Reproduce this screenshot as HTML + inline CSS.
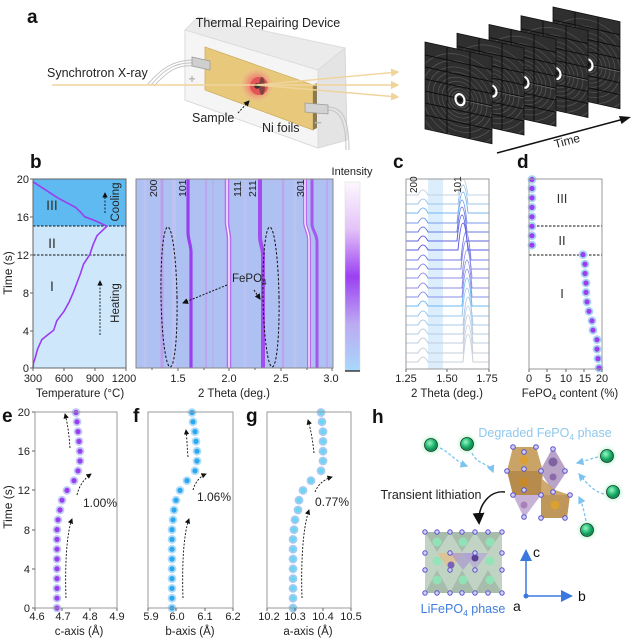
<!DOCTYPE html>
<html><head><meta charset="utf-8"><style>
html,body{margin:0;padding:0;background:#fff;}
svg{display:block;font-family:"Liberation Sans",Arial,sans-serif;}
</style></head><body>
<svg width="633" height="640" viewBox="0 0 633 640" xmlns="http://www.w3.org/2000/svg">
<defs>
<clipPath id="pc"><rect width="67" height="87"/></clipPath>
<g id="dp">
 <rect width="67" height="87" fill="#2f2f2f"/>
 <g clip-path="url(#pc)" fill="none" stroke="#a0a0a0" stroke-opacity=".35" stroke-width=".7">
  <circle cx="35" cy="50" r="8"/><circle cx="35" cy="50" r="11"/><circle cx="35" cy="50" r="14"/>
  <circle cx="35" cy="50" r="18"/><circle cx="35" cy="50" r="22"/><circle cx="35" cy="50" r="27"/>
  <circle cx="35" cy="50" r="32"/><circle cx="35" cy="50" r="38"/><circle cx="35" cy="50" r="45"/>
  <line x1="40" y1="50" x2="67" y2="50" stroke-opacity=".6"/>
 </g>
 <g stroke="#0d0d0d" stroke-width="1">
  <line x1="0" y1="13" x2="67" y2="13"/><line x1="0" y1="25" x2="67" y2="25"/><line x1="0" y1="37" x2="67" y2="37"/>
  <line x1="0" y1="49" x2="67" y2="49"/><line x1="0" y1="61" x2="67" y2="61"/><line x1="0" y1="73" x2="67" y2="73"/>
  <line x1="22" y1="0" x2="22" y2="87"/><line x1="45" y1="0" x2="45" y2="87"/>
 </g>
 <ellipse cx="35" cy="50" rx="4.5" ry="5.5" fill="none" stroke="#fff" stroke-width="2.2"/>
 <circle cx="35" cy="50" r="2" fill="#111"/>
 <rect width="67" height="87" fill="none" stroke="#111" stroke-width=".8"/>
</g>
<linearGradient id="cb" x1="0" y1="0" x2="0" y2="1">
 <stop offset="0" stop-color="#fdf7ff"/><stop offset=".25" stop-color="#e3c3f7"/>
 <stop offset=".5" stop-color="#9b40f2"/><stop offset=".75" stop-color="#bcaaf2"/>
 <stop offset="1" stop-color="#a8d8fb"/>
</linearGradient>
<radialGradient id="spot"><stop offset="0" stop-color="#ff5a5a" stop-opacity=".9"/><stop offset=".55" stop-color="#f07070" stop-opacity=".6"/><stop offset="1" stop-color="#f4a0a0" stop-opacity="0"/></radialGradient>
<radialGradient id="li" cx=".4" cy=".35"><stop offset="0" stop-color="#9ff5c8"/><stop offset=".6" stop-color="#2ec47c"/><stop offset="1" stop-color="#15925a"/></radialGradient>
<radialGradient id="glow"><stop offset=".5" stop-color="#a8f0c4" stop-opacity=".8"/><stop offset="1" stop-color="#c8f8d8" stop-opacity="0"/></radialGradient>
<marker id="ah" markerWidth="6" markerHeight="6" refX="5" refY="3" orient="auto"><path d="M0,0 L6,3 L0,6 z" fill="#111"/></marker>
<marker id="ahb" markerWidth="6" markerHeight="6" refX="5" refY="3" orient="auto"><path d="M0,0 L6,3 L0,6 z" fill="#7cc4f0"/></marker>
<marker id="ahy" markerWidth="6" markerHeight="6" refX="5" refY="3" orient="auto"><path d="M0,0 L6,3 L0,6 z" fill="#f0d49c"/></marker>
<marker id="ahk" markerWidth="8" markerHeight="8" refX="6" refY="4" orient="auto"><path d="M0,0 L8,4 L0,8 z" fill="#111"/></marker>
<marker id="ahbl" markerWidth="8" markerHeight="8" refX="6" refY="4" orient="auto"><path d="M0,0 L8,4 L0,8 z" fill="#3a78e0"/></marker>
</defs>

<!-- ============ PANEL A ============ -->
<text x="27" y="23" font-size="19" font-weight="bold" fill="#111">a</text>
<polygon points="185,30 198,17 345,48 347,140 318,148 185,100" fill="#f1f1f1" stroke="#d6d6d6" stroke-width="1"/>
<polygon points="185,30 198,17 345,48 318,70" fill="#ebebeb" stroke="#dcdcdc" stroke-width=".8"/>
<polygon points="318,70 345,48 347,140 318,148" fill="#e4e4e4" stroke="#d6d6d6" stroke-width=".8"/>
<polygon points="185,30 318,70 318,148 185,100" fill="#f5f5f5" stroke="#d8d8d8" stroke-width=".8"/>
<text x="268" y="27" font-size="12.5" text-anchor="middle" fill="#222">Thermal Repairing Device</text>
<polygon points="205,47 313,85 313,130 205,90" fill="#e8c97c" stroke="#cfae5e" stroke-width=".8"/>
<polygon points="313,85 317,83 317,128 313,130" fill="#8a7a55"/>
<circle cx="257" cy="85" r="17" fill="url(#spot)"/>
<circle cx="259" cy="86" r="9" fill="#e35454"/>
<ellipse cx="262" cy="86" rx="3" ry="9" fill="#5a3a3a" opacity=".7"/>
<circle cx="257" cy="86" r="2.8" fill="#333"/>
<g fill="none" stroke="#c4c4c4" stroke-width="1">
<path d="M148,84 C160,70 172,60 194,60"/><path d="M151,85 C163,71 174,62 194,63"/><path d="M154,86 C166,73 176,64 194,66"/>
<path d="M328,107 C342,107 349,118 349,150"/><path d="M328,110 C339,110 346,120 346,150"/>
</g>
<polygon points="192,57 210,61 210,70 192,66" fill="#cfcfcf" stroke="#9c9c9c" stroke-width=".8"/>
<polygon points="305,103 328,105 328,114 305,112" fill="#d2d2d2" stroke="#9c9c9c" stroke-width=".8"/>
<text x="192" y="83" font-size="12" font-weight="bold" fill="#b8b8b8" text-anchor="middle">+</text>
<text x="318" y="127" font-size="13" font-weight="bold" fill="#b8b8b8" text-anchor="middle">−</text>
<g stroke="#f0d49c" stroke-width="1.4" fill="none">
<line x1="52" y1="85" x2="257" y2="85"/>
<line x1="257" y1="85" x2="398" y2="72" marker-end="url(#ahy)"/>
<line x1="257" y1="85" x2="398" y2="85" marker-end="url(#ahy)"/>
<line x1="257" y1="85" x2="398" y2="97" marker-end="url(#ahy)"/>
</g>
<text x="47" y="77" font-size="12.5" fill="#222">Synchrotron X-ray</text>
<text x="192" y="122" font-size="12.5" fill="#222">Sample</text>
<line x1="238" y1="113" x2="249" y2="101" stroke="#111" stroke-width="1" stroke-dasharray="2,1.5" marker-end="url(#ah)"/>
<text x="262" y="132" font-size="12.5" fill="#222">Ni foils</text>
<use href="#dp" transform="matrix(1,0.22,0,1,553,7)"/>
<use href="#dp" transform="matrix(1,0.22,0,1,521,15.75)"/>
<use href="#dp" transform="matrix(1,0.22,0,1,489,24.5)"/>
<use href="#dp" transform="matrix(1,0.22,0,1,457,33.25)"/>
<use href="#dp" transform="matrix(1,0.22,0,1,425,42)"/>
<line x1="497" y1="153" x2="622" y2="119.5" stroke="#111" stroke-width="1.5"/>
<polygon points="631,117 619,116 621.5,124" fill="#111"/>
<text x="567" y="145" font-size="12" text-anchor="middle" fill="#222" transform="rotate(-15 567 141)">Time</text>

<!-- ============ PANEL B ============ -->
<text x="30" y="168" font-size="19" font-weight="bold" fill="#111">b</text>
<rect x="33" y="226" width="93" height="142" fill="#cfe7fa"/>
<rect x="33" y="179" width="93" height="47" fill="#5ebaf0"/>
<line x1="33" y1="226" x2="126" y2="226" stroke="#111" stroke-width="1" stroke-dasharray="2.5,1.5"/>
<line x1="33" y1="255" x2="126" y2="255" stroke="#111" stroke-width="1" stroke-dasharray="2.5,1.5"/>
<polyline fill="none" stroke="#9a3df0" stroke-width="1.6" points="33,368 33.5,363 35,358.5 37.6,349 41.8,339.6 47.5,335 53.7,330.2 56.8,320.8 64,311.3 69.2,301.9 73.3,292.4 76.9,283 80.5,273.5 83.6,264 89.8,254.6 92.9,245.2 97,235.7 106.9,226.2 95,220.6 84.7,216.8 80.5,212 75.4,207.3 57.8,197.9 43.3,188.4 33,181.8"/>
<rect x="33" y="179" width="93" height="189" fill="none" stroke="#666" stroke-width="1"/>
<g font-size="14" fill="#333" text-anchor="middle"><text x="52" y="210">III</text><text x="52" y="248">II</text><text x="52" y="291">I</text></g>
<line x1="105" y1="213" x2="105" y2="193" stroke="#111" stroke-width=".9" stroke-dasharray="2,1.5" marker-end="url(#ah)"/>
<line x1="100" y1="335" x2="100" y2="281" stroke="#111" stroke-width=".9" stroke-dasharray="2,1.5" marker-end="url(#ah)"/>
<text font-size="11.5" fill="#222" text-anchor="middle" transform="translate(119,202) rotate(-90)">Cooling</text>
<text font-size="11.5" fill="#222" text-anchor="middle" transform="translate(119,303) rotate(-90)">Heating</text>
<g stroke="#666" stroke-width="1">
<line x1="30" y1="179" x2="33" y2="179"/><line x1="30" y1="217" x2="33" y2="217"/><line x1="30" y1="255" x2="33" y2="255"/><line x1="30" y1="293" x2="33" y2="293"/><line x1="30" y1="331" x2="33" y2="331"/><line x1="30" y1="368" x2="33" y2="368"/>
<line x1="33" y1="368" x2="33" y2="371"/><line x1="64" y1="368" x2="64" y2="371"/><line x1="95" y1="368" x2="95" y2="371"/><line x1="126" y1="368" x2="126" y2="371"/>
</g>
<g font-size="11" fill="#222" text-anchor="end">
<text x="29" y="183">20</text><text x="29" y="221">16</text><text x="29" y="259">12</text><text x="29" y="297">8</text><text x="29" y="335">4</text><text x="29" y="372">0</text>
</g>
<g font-size="11" fill="#222" text-anchor="middle">
<text x="33" y="382">300</text><text x="64" y="382">600</text><text x="95" y="382">900</text><text x="124" y="382">1200</text>
</g>
<text font-size="12" fill="#222" text-anchor="middle" transform="translate(12,273) rotate(-90)">Time (s)</text>
<text x="80" y="397" font-size="11.5" fill="#222" text-anchor="middle">Temperature (°C)</text>

<!-- heatmap -->
<rect x="136" y="179" width="197" height="189" fill="#afc0f2"/>
<g fill="none">
<line x1="145" y1="179" x2="145" y2="368" stroke="#b8c4f2" stroke-width="3"/>
<line x1="174" y1="179" x2="174" y2="368" stroke="#bac3f2" stroke-width="4"/>
<line x1="245" y1="179" x2="245" y2="368" stroke="#b8c2f2" stroke-width="3"/>
<line x1="295" y1="179" x2="295" y2="368" stroke="#b9c4f3" stroke-width="3"/>
<line x1="162" y1="179" x2="162" y2="368" stroke="#bb9eec" stroke-width="3"/>
<line x1="206" y1="179" x2="206" y2="368" stroke="#bba8ee" stroke-width="2.2"/>
<line x1="213" y1="179" x2="213" y2="368" stroke="#b9b0f0" stroke-width="1.5"/>
<line x1="283" y1="179" x2="283" y2="368" stroke="#bba6ee" stroke-width="2.5"/>
<line x1="327" y1="179" x2="327" y2="368" stroke="#bca8ee" stroke-width="2"/>
<path d="M191,368 L191,252 C191,245 188,240 188,232 L188,179" stroke="#9a3ff0" stroke-width="3.2"/>
<path d="M229,368 L229,240 C229,232 227,228 227,222 L227,179" stroke="#b56cee" stroke-width="4.5"/>
<path d="M229,368 L229,240 C229,232 227,228 227,222 L227,179" stroke="#fdf2ff" stroke-width="1.5"/>
<path d="M263,368 L263,255 C263,248 260,244 260,236 L260,179" stroke="#a24cf0" stroke-width="4"/>
<path d="M317,368 L317,242 C317,234 312,230 312,224 L312,179" stroke="#a658ee" stroke-width="3"/>
<path d="M309,368 L309,240 C309,232 305,228 305,222 L305,179" stroke="#b56cee" stroke-width="4"/>
<path d="M309,368 L309,240 C309,232 305,228 305,222 L305,179" stroke="#fdf2ff" stroke-width="1.4"/>
</g>
<rect x="136" y="179" width="197" height="189" fill="none" stroke="#888" stroke-width="1"/>
<g font-size="10.5" fill="#222">
<text transform="translate(157,197) rotate(-90)">200</text>
<text transform="translate(186,197) rotate(-90)">101</text>
<text transform="translate(241,197) rotate(-90)">111</text>
<text transform="translate(256,197) rotate(-90)">211</text>
<text transform="translate(304,197) rotate(-90)">301</text>
</g>
<ellipse cx="169" cy="297" rx="8" ry="70" fill="none" stroke="#111" stroke-width="1" stroke-dasharray="2.5,1.8" transform="rotate(-1 169 297)"/>
<ellipse cx="271" cy="297" rx="8" ry="70" fill="none" stroke="#111" stroke-width="1" stroke-dasharray="2.5,1.8" transform="rotate(-1 271 297)"/>
<text x="232" y="282" font-size="11.5" fill="#222">FePO<tspan font-size="8" dy="3">4</tspan></text>
<line x1="227" y1="285" x2="183" y2="303" stroke="#111" stroke-width="1" stroke-dasharray="2,1.5" marker-end="url(#ah)"/>
<line x1="254" y1="290" x2="260" y2="299" stroke="#111" stroke-width="1" stroke-dasharray="2,1.5" marker-end="url(#ah)"/>
<g stroke="#666" stroke-width="1">
<line x1="178" y1="368" x2="178" y2="371"/><line x1="229" y1="368" x2="229" y2="371"/><line x1="281" y1="368" x2="281" y2="371"/><line x1="332" y1="368" x2="332" y2="371"/>
<line x1="152" y1="368" x2="152" y2="370"/><line x1="204" y1="368" x2="204" y2="370"/><line x1="255" y1="368" x2="255" y2="370"/><line x1="307" y1="368" x2="307" y2="370"/>
</g>
<g font-size="11" fill="#222" text-anchor="middle">
<text x="178" y="382">1.5</text><text x="229" y="382">2.0</text><text x="281" y="382">2.5</text><text x="331" y="382">3.0</text>
</g>
<text x="234" y="397" font-size="11.5" fill="#222" text-anchor="middle">2 Theta (deg.)</text>
<rect x="345" y="182" width="15" height="189" fill="url(#cb)" stroke="#ddd" stroke-width=".5"/>
<line x1="345" y1="371" x2="360" y2="371" stroke="#111" stroke-width="1.2"/>
<text x="352" y="175" font-size="11" fill="#222" text-anchor="middle">Intensity</text>

<!-- ============ PANEL C ============ -->
<text x="393" y="168" font-size="19" font-weight="bold" fill="#111">c</text>
<rect x="428" y="179" width="15" height="190" fill="#dcedfb"/>
<g fill="none" stroke-width="1">
<path stroke="#c8d0da" d="M406,362 L418,362 Q423,352 428,362 L463,362 Q468,306 473,362 L489,362"/>
<path stroke="#c5cfda" d="M406,353 L418,353 Q423,343 428,353 L463,353 Q468,297 473,353 L489,353"/>
<path stroke="#c0ccdc" d="M406,343 L418,343 Q423,333 428,343 L463,343 Q468,287 473,343 L489,343"/>
<path stroke="#b8cce0" d="M406,334 L418,334 Q423,324 428,334 L463,334 Q468,278 473,334 L489,334"/>
<path stroke="#a8c8ea" d="M406,325 L418,325 Q423,315 428,325 L463,325 Q468,269 473,325 L489,325"/>
<path stroke="#98c6ee" d="M406,316 L418,316 Q423,306 428,316 L462,316 Q467,260 472,316 L489,316"/>
<path stroke="#6ab8f0" d="M406,306 L418,306 Q423,296 428,306 L462,306 Q467,250 472,306 L489,306"/>
<path stroke="#8a8ee8" d="M406,297 L418,297 Q423,287 428,297 L462,297 Q467,241 472,297 L489,297"/>
<path stroke="#8c8ce6" d="M406,288 L418,288 Q423,278 428,288 L462,288 Q467,232 472,288 L489,288"/>
<path stroke="#9090e8" d="M406,278 L418,278 Q423,268 428,278 L462,278 Q467,222 472,278 L489,278"/>
<path stroke="#8488e6" d="M406,269 L418,269 Q423,259 428,269 L461,269 Q466,213 471,269 L489,269"/>
<path stroke="#7a7ee4" d="M406,260 L418,260 Q423,250 428,260 L461,260 Q466,204 471,260 L489,260"/>
<path stroke="#5a5ee0" d="M406,250 L418,250 Q423,240 428,250 L458,250 Q463,196 468,250 L489,250"/>
<path stroke="#5e62e0" d="M406,241 L418,241 Q423,231 428,241 L457,241 Q462,189 467,241 L489,241"/>
<path stroke="#6a78e6" d="M406,232 L418,232 Q423,222 428,232 L457,232 Q462,182 467,232 L489,232"/>
<path stroke="#7a9aea" d="M406,223 L418,223 Q423,213 428,223 L457,223 Q462,177 467,223 L489,223"/>
<path stroke="#78b6f0" d="M406,213 L418,213 Q423,203 428,213 L458,213 Q463,171 468,213 L489,213"/>
<path stroke="#a0c6ea" d="M406,204 L418,204 Q423,194 428,204 L458,204 Q463,166 468,204 L489,204"/>
<path stroke="#c4d2e0" d="M406,195 L418,195 Q423,185 428,195 L458,195 Q463,163 468,195 L489,195"/>
</g>
<rect x="406" y="179" width="83" height="190" fill="none" stroke="#999" stroke-width="1"/>
<g font-size="10" fill="#222">
<text transform="translate(417,193) rotate(-90)">200</text>
<text transform="translate(461,193) rotate(-90)">101</text>
</g>
<g stroke="#666" stroke-width="1">
<line x1="406" y1="369" x2="406" y2="372"/><line x1="447" y1="369" x2="447" y2="372"/><line x1="489" y1="369" x2="489" y2="372"/>
</g>
<g font-size="11" fill="#222" text-anchor="middle">
<text x="406" y="382">1.25</text><text x="447" y="382">1.50</text><text x="487" y="382">1.75</text>
</g>
<text x="447" y="397" font-size="11.5" fill="#222" text-anchor="middle">2 Theta (deg.)</text>

<!-- ============ PANEL D ============ -->
<text x="517" y="168" font-size="19" font-weight="bold" fill="#111">d</text>
<line x1="529" y1="226" x2="602" y2="226" stroke="#111" stroke-width="1" stroke-dasharray="2.5,1.5"/>
<line x1="529" y1="255" x2="602" y2="255" stroke="#111" stroke-width="1" stroke-dasharray="2.5,1.5"/>
<g font-size="13" fill="#333" text-anchor="middle"><text x="562" y="203">III</text><text x="562" y="245">II</text><text x="562" y="298">I</text></g>
<g fill="#9b3df0" stroke="#a8d6f2" stroke-width="1.8">
<circle cx="599" cy="368" r="3.5"/><circle cx="598" cy="358.6" r="3.5"/><circle cx="597" cy="349.1" r="3.5"/><circle cx="597" cy="339.7" r="3.5"/>
<circle cx="593" cy="330.2" r="3.5"/><circle cx="592" cy="320.8" r="3.5"/><circle cx="589" cy="311.3" r="3.5"/><circle cx="587" cy="301.9" r="3.5"/>
<circle cx="586" cy="292.4" r="3.5"/><circle cx="586" cy="283" r="3.5"/><circle cx="585" cy="273.5" r="3.5"/><circle cx="585" cy="264.1" r="3.5"/>
<circle cx="583" cy="254.6" r="3.5"/><circle cx="532" cy="245.2" r="3.5"/><circle cx="532" cy="235.7" r="3.5"/><circle cx="532" cy="226.3" r="3.5"/>
<circle cx="532" cy="216.8" r="3.5"/><circle cx="532" cy="207.4" r="3.5"/><circle cx="532" cy="197.9" r="3.5"/><circle cx="532" cy="188.5" r="3.5"/>
<circle cx="532" cy="179.5" r="3.5"/>
</g>
<rect x="529" y="179" width="73" height="190" fill="none" stroke="#999" stroke-width="1"/>
<g stroke="#666" stroke-width="1">
<line x1="529" y1="369" x2="529" y2="372"/><line x1="547" y1="369" x2="547" y2="372"/><line x1="566" y1="369" x2="566" y2="372"/><line x1="584" y1="369" x2="584" y2="372"/><line x1="602" y1="369" x2="602" y2="372"/>
</g>
<g font-size="11" fill="#222" text-anchor="middle">
<text x="529" y="382">0</text><text x="548" y="382">5</text><text x="566" y="382">10</text><text x="585" y="382">15</text><text x="602" y="382">20</text>
</g>
<text x="570" y="397" font-size="11.5" fill="#222" text-anchor="middle">FePO<tspan font-size="8" dy="3">4</tspan><tspan dy="-3"> content (%)</tspan></text>

<!-- ============ PANEL E ============ -->
<text x="2" y="422" font-size="19" font-weight="bold" fill="#111">e</text>
<g fill="#9b3df0" stroke="#c2cbf5" stroke-width="1.8">
<circle cx="57" cy="608" r="3.5"/><circle cx="57" cy="598.2" r="3.5"/><circle cx="57" cy="588.4" r="3.5"/><circle cx="57" cy="578.6" r="3.5"/>
<circle cx="57" cy="568.8" r="3.5"/><circle cx="57" cy="559" r="3.5"/><circle cx="57" cy="549.2" r="3.5"/><circle cx="57" cy="539.4" r="3.5"/>
<circle cx="57" cy="529.6" r="3.5"/><circle cx="58" cy="519.8" r="3.5"/><circle cx="60" cy="510" r="3.5"/><circle cx="62" cy="500.2" r="3.5"/>
<circle cx="67" cy="490.4" r="3.5"/><circle cx="74" cy="480.6" r="3.5"/><circle cx="78" cy="470.8" r="3.5"/><circle cx="80" cy="461" r="3.5"/>
<circle cx="80" cy="451.2" r="3.5"/><circle cx="79" cy="441.4" r="3.5"/><circle cx="78" cy="431.6" r="3.5"/><circle cx="77" cy="421.8" r="3.5"/>
<circle cx="76" cy="412.5" r="3.5"/>
</g>
<rect x="35" y="412" width="82" height="196" fill="none" stroke="#999" stroke-width="1"/>
<g fill="none" stroke="#111" stroke-width=".9" stroke-dasharray="2,1.5">
<path d="M66,598 C65,570 66,535 72,519" marker-end="url(#ah)"/>
<path d="M77,495 C79,486 84,479 91,474" marker-end="url(#ah)"/>
<path d="M70,448 C69,435 68,425 65,414" marker-end="url(#ah)"/>
</g>
<text x="83" y="507" font-size="12" fill="#222">1.00%</text>
<g stroke="#666" stroke-width="1">
<line x1="32" y1="412" x2="35" y2="412"/><line x1="32" y1="451" x2="35" y2="451"/><line x1="32" y1="490" x2="35" y2="490"/><line x1="32" y1="530" x2="35" y2="530"/><line x1="32" y1="569" x2="35" y2="569"/><line x1="32" y1="608" x2="35" y2="608"/>
<line x1="35" y1="608" x2="35" y2="611"/><line x1="62" y1="608" x2="62" y2="611"/><line x1="90" y1="608" x2="90" y2="611"/><line x1="117" y1="608" x2="117" y2="611"/>
</g>
<g font-size="11" fill="#222" text-anchor="end">
<text x="30" y="416">20</text><text x="30" y="455">16</text><text x="30" y="494">12</text><text x="30" y="534">8</text><text x="30" y="573">4</text><text x="30" y="612">0</text>
</g>
<text font-size="12" fill="#222" text-anchor="middle" transform="translate(12,507) rotate(-90)">Time (s)</text>
<g font-size="11" fill="#222" text-anchor="middle">
<text x="37" y="620">4.6</text><text x="63" y="620">4.7</text><text x="90" y="620">4.8</text><text x="117" y="620">4.9</text>
</g>
<text x="79" y="635" font-size="11.5" fill="#222" text-anchor="middle">c-axis (Å)</text>

<!-- ============ PANEL F ============ -->
<text x="133" y="422" font-size="19" font-weight="bold" fill="#111">f</text>
<g fill="#2aa8f2" stroke="#b2dcf8" stroke-width="1.8">
<circle cx="172" cy="608" r="3.5"/><circle cx="172" cy="598.2" r="3.5"/><circle cx="172" cy="588.4" r="3.5"/><circle cx="172" cy="578.6" r="3.5"/>
<circle cx="172" cy="568.8" r="3.5"/><circle cx="172" cy="559" r="3.5"/><circle cx="172" cy="549.2" r="3.5"/><circle cx="172" cy="539.4" r="3.5"/>
<circle cx="172" cy="529.6" r="3.5"/><circle cx="173" cy="519.8" r="3.5"/><circle cx="174" cy="510" r="3.5"/><circle cx="176" cy="500.2" r="3.5"/>
<circle cx="180" cy="490.4" r="3.5"/><circle cx="187" cy="480.6" r="3.5"/><circle cx="195" cy="470.8" r="3.5"/><circle cx="197" cy="461" r="3.5"/>
<circle cx="197" cy="451.2" r="3.5"/><circle cx="196" cy="441.4" r="3.5"/><circle cx="195" cy="431.6" r="3.5"/><circle cx="193" cy="421.8" r="3.5"/>
<circle cx="192" cy="412.5" r="3.5"/>
</g>
<rect x="148" y="412" width="85" height="196" fill="none" stroke="#999" stroke-width="1"/>
<g fill="none" stroke="#111" stroke-width=".9" stroke-dasharray="2,1.5">
<path d="M183,598 C182,570 183,535 189,519" marker-end="url(#ah)"/>
<path d="M193,490 C195,483 199,477 206,474" marker-end="url(#ah)"/>
<path d="M188,457 C187,447 187,438 186,430" marker-end="url(#ah)"/>
</g>
<text x="197" y="501" font-size="12" fill="#222">1.06%</text>
<g stroke="#666" stroke-width="1">
<line x1="148" y1="608" x2="148" y2="611"/><line x1="176" y1="608" x2="176" y2="611"/><line x1="205" y1="608" x2="205" y2="611"/><line x1="233" y1="608" x2="233" y2="611"/>
</g>
<g font-size="11" fill="#222" text-anchor="middle">
<text x="151" y="620">5.9</text><text x="177" y="620">6.0</text><text x="205" y="620">6.1</text><text x="233" y="620">6.2</text>
</g>
<text x="190" y="635" font-size="11.5" fill="#222" text-anchor="middle">b-axis (Å)</text>

<!-- ============ PANEL G ============ -->
<text x="246" y="422" font-size="19" font-weight="bold" fill="#111">g</text>
<g fill="#66d8f4" stroke="#a8c8f2" stroke-width="1.8">
<circle cx="293" cy="608" r="3.5"/><circle cx="293" cy="598.2" r="3.5"/><circle cx="293" cy="588.4" r="3.5"/><circle cx="293" cy="578.6" r="3.5"/>
<circle cx="293" cy="568.8" r="3.5"/><circle cx="293" cy="559" r="3.5"/><circle cx="293" cy="549.2" r="3.5"/><circle cx="293" cy="539.4" r="3.5"/>
<circle cx="294" cy="529.6" r="3.5"/><circle cx="295" cy="519.8" r="3.5"/><circle cx="298" cy="510" r="3.5"/><circle cx="299" cy="500.2" r="3.5"/>
<circle cx="303" cy="490.4" r="3.5"/><circle cx="311" cy="480.6" r="3.5"/><circle cx="321" cy="470.8" r="3.5"/><circle cx="323" cy="461" r="3.5"/>
<circle cx="323" cy="451.2" r="3.5"/><circle cx="323" cy="441.4" r="3.5"/><circle cx="323" cy="431.6" r="3.5"/><circle cx="322" cy="421.8" r="3.5"/>
<circle cx="321" cy="412.5" r="3.5"/>
</g>
<rect x="267" y="412" width="84" height="196" fill="none" stroke="#999" stroke-width="1"/>
<g fill="none" stroke="#111" stroke-width=".9" stroke-dasharray="2,1.5">
<path d="M302,598 C301,570 302,530 309,510" marker-end="url(#ah)"/>
<path d="M315,492 C318,484 325,479 332,477" marker-end="url(#ah)"/>
<path d="M314,453 C313,443 311,430 308,420" marker-end="url(#ah)"/>
</g>
<text x="315" y="506" font-size="12" fill="#222">0.77%</text>
<g stroke="#666" stroke-width="1">
<line x1="267" y1="608" x2="267" y2="611"/><line x1="295" y1="608" x2="295" y2="611"/><line x1="323" y1="608" x2="323" y2="611"/><line x1="351" y1="608" x2="351" y2="611"/>
</g>
<g font-size="11" fill="#222" text-anchor="middle">
<text x="269" y="620">10.2</text><text x="295" y="620">10.3</text><text x="323" y="620">10.4</text><text x="351" y="620">10.5</text>
</g>
<text x="308" y="635" font-size="11.5" fill="#222" text-anchor="middle">a-axis (Å)</text>

<!-- ============ PANEL H ============ -->
<text x="372" y="423" font-size="19" font-weight="bold" fill="#111">h</text>
<text x="545" y="437" font-size="12.5" fill="#8ec8ee" text-anchor="middle">Degraded FePO<tspan font-size="8.5" dy="3">4</tspan><tspan dy="-3"> phase</tspan></text>
<polygon points="513,447 536,447 543,471 541,495 513,495 507,471" fill="#c49a55" opacity=".9"/>
<polygon points="507,471 543,471 541,495 513,495" fill="#a97c3a" opacity=".6"/>
<polygon points="513,495 541,495 524,518" fill="#c8b2d6"/>
<polygon points="553,447 567,471 553,492 540,471" fill="#b9a4c8"/>
<polygon points="541,478 555,490 570,495 567,518 541,518" fill="#c8a060" opacity=".9"/>
<polygon points="541,495 570,495 567,518 541,518" fill="#b08040" opacity=".45"/>
<circle cx="524" cy="460" r="4.5" fill="#d9a038"/><circle cx="524" cy="482" r="4.5" fill="#c88a28"/>
<circle cx="524" cy="505" r="3.5" fill="#a880b8"/>
<circle cx="553" cy="462" r="4.5" fill="#7f62a0"/><circle cx="553" cy="477" r="3.5" fill="#8a6aa8"/>
<circle cx="555" cy="505" r="4.5" fill="#daa030"/>
<g fill="#d0d0f8" stroke="#5a50c8" stroke-width="1">
<circle cx="513" cy="447" r="2.3"/><circle cx="536" cy="447" r="2.3"/><circle cx="524" cy="452" r="2.3"/><circle cx="553" cy="449" r="2.3"/>
<circle cx="507" cy="471" r="2.3"/><circle cx="524" cy="469" r="2.3"/><circle cx="541" cy="471" r="2.3"/><circle cx="565" cy="471" r="2.3"/>
<circle cx="524" cy="490" r="2.3"/><circle cx="553" cy="492" r="2.3"/><circle cx="513" cy="495" r="2.3"/><circle cx="541" cy="495" r="2.3"/>
<circle cx="570" cy="495" r="2.3"/><circle cx="524" cy="517" r="2.3"/><circle cx="541" cy="518" r="2.3"/><circle cx="565" cy="518" r="2.3"/>
</g>
<g>
<circle cx="431" cy="445" r="11" fill="url(#glow)"/><circle cx="431" cy="445" r="6.5" fill="url(#li)" stroke="#1a3a2a" stroke-width=".8"/>
<circle cx="467" cy="444" r="11" fill="url(#glow)"/><circle cx="467" cy="444" r="6.5" fill="url(#li)" stroke="#1a3a2a" stroke-width=".8"/>
<circle cx="607" cy="456" r="11" fill="url(#glow)"/><circle cx="607" cy="456" r="6.5" fill="url(#li)" stroke="#1a3a2a" stroke-width=".8"/>
<circle cx="613" cy="492" r="11" fill="url(#glow)"/><circle cx="613" cy="492" r="6.5" fill="url(#li)" stroke="#1a3a2a" stroke-width=".8"/>
<circle cx="587" cy="530" r="11" fill="url(#glow)"/><circle cx="587" cy="530" r="6.5" fill="url(#li)" stroke="#1a3a2a" stroke-width=".8"/>
</g>
<g fill="none" stroke="#7cc4f0" stroke-width="1.3" stroke-dasharray="3,2">
<path d="M440,448 C452,454 456,462 467,466" marker-end="url(#ahb)"/>
<path d="M472,453 C478,466 489,462 493,472" marker-end="url(#ahb)"/>
<path d="M598,457 C590,459 585,461 577,463" marker-end="url(#ahb)"/>
<path d="M604,494 C595,492 588,485 579,474" marker-end="url(#ahb)"/>
<path d="M586,521 C584,512 583,505 579,497" marker-end="url(#ahb)"/>
</g>
<text x="431" y="499" font-size="12.5" fill="#222" text-anchor="middle">Transient lithiation</text>
<path d="M505,492 C490,490 478,505 479,522" fill="none" stroke="#111" stroke-width="1.5" marker-end="url(#ahk)"/>
<rect x="425" y="532" width="77" height="61" fill="#b6cbb9" opacity=".85"/>
<g fill="#9eb3a2" opacity=".7">
<polygon points="425,532 437,552 450,532"/><polygon points="450,532 462,552 475,532"/><polygon points="475,532 488,552 502,532"/>
<polygon points="425,593 437,570 450,593"/><polygon points="450,593 462,570 475,593"/><polygon points="475,593 488,570 502,593"/>
</g>
<polygon points="437,553 463,553 450,570" fill="#e0c090" opacity=".85"/>
<polygon points="450,553 477,553 463,570" fill="#a898d0" opacity=".7"/>
<polygon points="463,553 488,553 475,570" fill="#b0a0d8" opacity=".6"/>
<g fill="#8fe6b8" opacity=".9">
<circle cx="437" cy="542" r="4.5"/><circle cx="463" cy="542" r="4.5"/><circle cx="490" cy="542" r="4.5"/>
<circle cx="437" cy="561" r="4.5"/><circle cx="490" cy="561" r="4.5"/>
<circle cx="437" cy="580" r="4.5"/><circle cx="463" cy="580" r="4.5"/><circle cx="490" cy="580" r="4.5"/>
</g>
<circle cx="451" cy="565" r="3.5" fill="#7a60b8"/><circle cx="475" cy="558" r="3.5" fill="#5a4090"/>
<g fill="#d0d0f8" stroke="#5a50c8" stroke-width="1">
<circle cx="425" cy="532" r="2.2"/><circle cx="437" cy="532" r="2.2"/><circle cx="450" cy="532" r="2.2"/><circle cx="462" cy="532" r="2.2"/><circle cx="475" cy="532" r="2.2"/><circle cx="488" cy="532" r="2.2"/><circle cx="502" cy="532" r="2.2"/>
<circle cx="425" cy="553" r="2.2"/><circle cx="450" cy="553" r="2.2"/><circle cx="475" cy="553" r="2.2"/><circle cx="502" cy="553" r="2.2"/>
<circle cx="425" cy="570" r="2.2"/><circle cx="450" cy="570" r="2.2"/><circle cx="475" cy="570" r="2.2"/><circle cx="502" cy="570" r="2.2"/>
<circle cx="425" cy="593" r="2.2"/><circle cx="437" cy="593" r="2.2"/><circle cx="450" cy="593" r="2.2"/><circle cx="462" cy="593" r="2.2"/><circle cx="475" cy="593" r="2.2"/><circle cx="488" cy="593" r="2.2"/><circle cx="502" cy="593" r="2.2"/>
</g>
<text x="463" y="613" font-size="12.5" fill="#3d7de0" text-anchor="middle">LiFePO<tspan font-size="8.5" dy="3">4</tspan><tspan dy="-3"> phase</tspan></text>
<line x1="526" y1="596" x2="526" y2="552" stroke="#3a78e0" stroke-width="1.5" marker-end="url(#ahbl)"/>
<line x1="526" y1="596" x2="570" y2="596" stroke="#3a78e0" stroke-width="1.5" marker-end="url(#ahbl)"/>
<circle cx="526" cy="596" r="2.5" fill="#3a78e0"/>
<text x="533" y="557" font-size="14" fill="#111">c</text>
<text x="578" y="601" font-size="14" fill="#111">b</text>
<text x="513" y="611" font-size="14" fill="#111">a</text>
</svg>
</body></html>
